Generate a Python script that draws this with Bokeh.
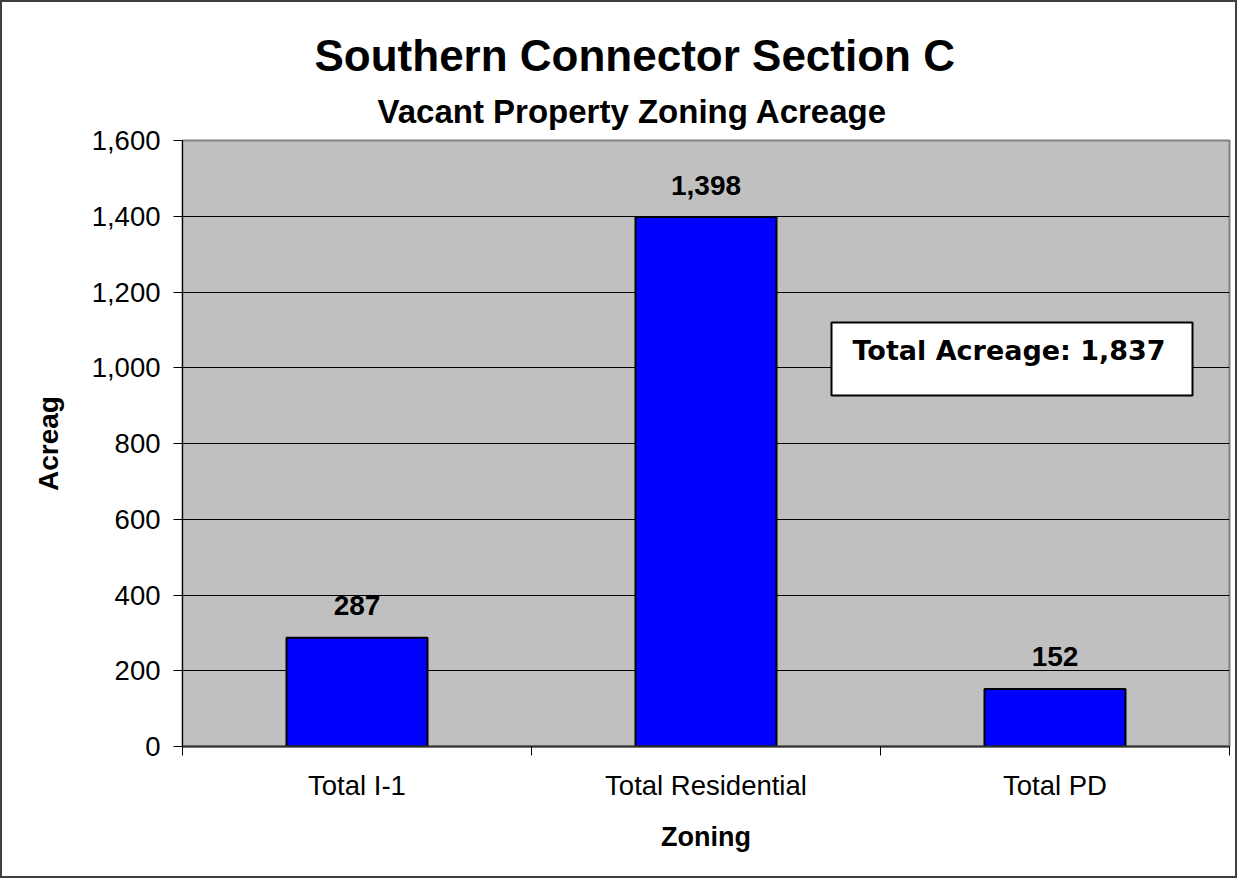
import numpy as np
from bokeh.plotting import figure
from bokeh.models import (ColumnDataSource, Range1d, FixedTicker,
                          NumeralTickFormatter, Label, BoxAnnotation, Title)
from bokeh.core.properties import value
from bokeh.embed import file_html
from bokeh.resources import INLINE

# ---- data ----
categories = ["Total I-1", "Total Residential", "Total PD"]
acreage = [287, 1398, 152]
total_acreage = 1837
y_ticks = [0, 200, 400, 600, 800, 1000, 1200, 1400, 1600]
title_text = "Southern Connector Section C"
subtitle_text = "Vacant Property Zoning Acreage"
x_title = "Zoning"
y_title = "Acreag"

n = len(categories)
centers = [i + 0.5 for i in range(n)]
bounds = list(range(n + 1))

FONT = "Liberation Sans"

p = figure(width=1237, height=878,
           x_range=Range1d(0, n), y_range=Range1d(y_ticks[0], y_ticks[-1]),
           output_backend="svg", toolbar_location=None,
           min_border_left=180, min_border_right=10,
           min_border_top=138, min_border_bottom=134)
p.styles = {"border": "2px solid #404040"}

p.background_fill_color = "#C0C0C0"
p.border_fill_color = "white"
p.outline_line_color = "#808080"
p.outline_line_width = 2

# titles: the default title is the outer one, the added one sits next to the frame
p.title.text = title_text
p.title.align = "left"
p.title.offset = 132
p.title.vertical_align = "top"
p.title.standoff = 5
p.title.text_font = FONT
p.title.text_font_style = "bold"
p.title.text_font_size = "44px"
p.title.text_color = "black"
p.add_layout(Title(text=subtitle_text, align="left", offset=195,
                   vertical_align="top", standoff=17,
                   text_font=FONT, text_font_style="bold",
                   text_font_size="33px", text_color="black"), "above")

src = ColumnDataSource(dict(
    x=centers, top=acreage, cat=categories,
    label=["{:,}".format(v) for v in acreage]))

p.vbar(x="x", top="top", bottom=0, width=0.404, source=src,
       fill_color="#0000FF", line_color="black", line_width=2)

p.text(x="x", y="top", text="label", source=src, y_offset=-32,
       text_align="center", text_baseline="alphabetic",
       text_font=value(FONT), text_font_style="bold",
       text_font_size="28px", text_color="black")

# grid
p.xgrid.grid_line_color = None
p.ygrid.grid_line_color = "black"
p.ygrid.grid_line_width = 1

# y axis
p.yaxis.ticker = FixedTicker(ticks=y_ticks)
p.yaxis.formatter = NumeralTickFormatter(format="0,0")
p.yaxis.major_tick_out = 9
p.yaxis.major_tick_in = 0
p.yaxis.minor_tick_line_color = None
p.yaxis.major_tick_line_color = "black"
p.yaxis.axis_line_color = "black"
p.yaxis.major_label_standoff = 13
p.yaxis.major_label_text_font = FONT
p.yaxis.major_label_text_font_size = "27.5px"
p.yaxis.major_label_text_color = "black"
p.yaxis.axis_label = y_title
p.yaxis.axis_label_text_font = FONT
p.yaxis.axis_label_text_font_style = "bold"
p.yaxis.axis_label_text_font_size = "28px"
p.yaxis.axis_label_text_color = "black"
p.yaxis.axis_label_standoff = 25

# x axis
p.xaxis.ticker = FixedTicker(ticks=centers, minor_ticks=bounds)
p.xaxis.major_label_overrides = {c: cat for c, cat in zip(centers, categories)}
p.xaxis.major_tick_line_color = None
p.xaxis.major_tick_out = 0
p.xaxis.major_tick_in = 0
p.xaxis.minor_tick_line_color = "black"
p.xaxis.minor_tick_out = 9
p.xaxis.minor_tick_in = 0
p.xaxis.axis_line_color = "#303030"
p.xaxis.axis_line_width = 2
p.xaxis.major_label_standoff = 14
p.xaxis.major_label_text_font = FONT
p.xaxis.major_label_text_font_size = "27.5px"
p.xaxis.major_label_text_color = "black"
p.xaxis.axis_label = x_title
p.xaxis.axis_label_text_font = FONT
p.xaxis.axis_label_text_font_style = "bold"
p.xaxis.axis_label_text_font_size = "27px"
p.xaxis.axis_label_text_color = "black"
p.xaxis.axis_label_standoff = 18

# total acreage box (screen units relative to the plot frame)
p.add_layout(BoxAnnotation(left=649, right=1010, bottom=351, top=424,
                           left_units="screen", right_units="screen",
                           bottom_units="screen", top_units="screen",
                           fill_color="white", fill_alpha=1.0,
                           line_color="black", line_alpha=1.0, line_width=2))
p.add_layout(Label(x=670, y=396, x_units="screen", y_units="screen",
                   text="Total Acreage: {:,}".format(total_acreage),
                   text_align="left", text_baseline="alphabetic",
                   text_font="DejaVu Sans", text_font_style="bold",
                   text_font_size="27px", text_color="black"))

open("out.html", "w").write(file_html(p, INLINE))
